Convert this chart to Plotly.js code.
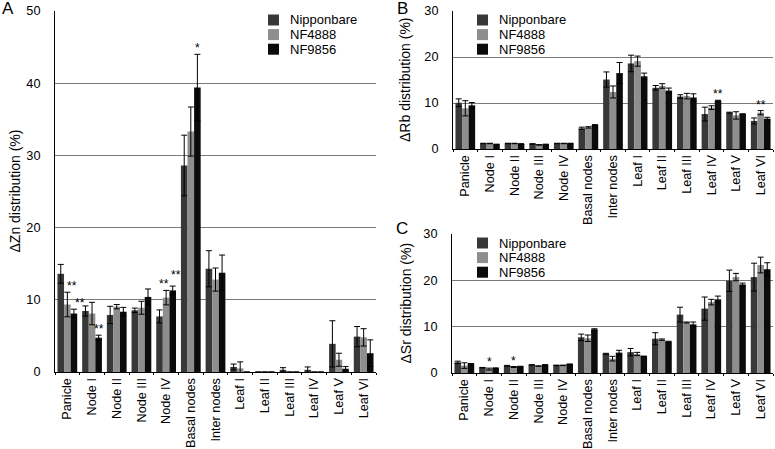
<!DOCTYPE html>
<html><head><meta charset="utf-8">
<script src="https://cdn.plot.ly/plotly-3.0.1.min.js"></script>
<style>html,body{margin:0;padding:0;background:#fff}#chart{width:775px;height:449px}</style>
</head><body><div id="chart"></div>
<script>
// ---------- data ----------
const categories = ['Panicle','Node I','Node II','Node III','Node IV','Basal nodes','Inter nodes','Leaf I','Leaf II','Leaf III','Leaf IV','Leaf V','Leaf VI'];
const seriesNames = ['Nipponbare','NF4888','NF9856'];

// Panel A: ΔZn
const znNip      = [13.6, 8.45, 7.9, 8.55, 7.7, 28.6, 14.3, 0.7, 0, 0.3, 0.3, 3.9, 4.9];
const znNipErr   = [1.3, 0.7, 1.2, 0.3, 0.9, 4.2, 2.5, 0.4, 0, 0.3, 0.4, 3.2, 1.4];
const zn4888     = [9.35, 8.1, 9.05, 8.9, 10.3, 33.3, 12.8, 0.5, 0, 0, 0, 1.7, 4.8];
const zn4888Err  = [1.7, 1.55, 0.3, 0.9, 1.0, 3.4, 1.6, 0.9, 0, 0, 0, 0.9, 1.2];
const zn9856     = [8.1, 4.75, 8.35, 10.4, 11.3, 39.4, 13.75, 0, 0, 0, 0, 0.45, 2.6];
const zn9856Err  = [0.6, 0.35, 0.6, 1.1, 0.6, 4.6, 2.45, 0, 0, 0, 0, 0.3, 1.85];

// Panel B: ΔRb
const rbNip      = [10.05, 1.2, 1.2, 1.1, 1.2, 4.5, 15.1, 18.6, 13.3, 11.4, 7.6, 7.9, 6.1];
const rbNipErr   = [0.85, 0.05, 0.05, 0.05, 0.05, 0.25, 1.65, 1.8, 0.5, 0.4, 1.5, 0.1, 0.65];
const rb4888     = [8.85, 1.2, 1.2, 0.9, 1.2, 4.7, 12.4, 19.1, 13.7, 11.5, 9.0, 7.3, 7.9];
const rb4888Err  = [1.65, 0.05, 0.05, 0.05, 0.05, 0.15, 1.3, 1.1, 0.5, 0.6, 0.4, 0.8, 0.45];
const rb9856     = [9.5, 1.0, 1.1, 1.0, 1.2, 5.2, 16.5, 15.8, 12.7, 11.2, 10.5, 7.6, 6.6];
const rb9856Err  = [0.6, 0.05, 0.05, 0.05, 0.05, 0.1, 2.3, 0.7, 0.55, 0.8, 0.1, 0.05, 0.3];

// Panel C: ΔSr
const srNip      = [2.3, 1.15, 1.55, 1.75, 1.65, 7.7, 4.15, 4.5, 7.4, 12.6, 13.9, 19.9, 20.7];
const srNipErr   = [0.25, 0.05, 0.1, 0.05, 0.05, 0.7, 0.1, 0.8, 1.3, 1.6, 2.5, 2.3, 3.0];
const sr4888     = [1.6, 0.85, 1.3, 1.5, 1.65, 7.5, 3.1, 4.1, 7.2, 10.9, 15.3, 20.7, 23.3];
const sr4888Err  = [0.6, 0.2, 0.1, 0.05, 0.05, 0.7, 0.5, 0.35, 0.15, 0.1, 0.6, 0.8, 1.7];
const sr9856     = [2.0, 1.05, 1.4, 1.75, 1.9, 9.4, 4.4, 3.6, 6.75, 10.5, 15.9, 19.1, 22.4];
const sr9856Err  = [0.05, 0.05, 0.05, 0.05, 0.05, 0.15, 0.5, 0.05, 0.1, 0.5, 0.7, 0.3, 1.4];

// significance marks: [category, series index, label]
const znStars = [['Panicle',1,'**'],['Panicle',2,'**'],['Node I',2,'**'],['Node IV',1,'**'],['Node IV',2,'**'],['Basal nodes',2,'*']];
const rbStars = [['Leaf IV',2,'**'],['Leaf VI',1,'**']];
const srStars = [['Node I',1,'*'],['Node II',1,'*']];

// ---------- styling ----------
const colors = ['#383838','#8e8e8e','#0b0b0b'];
const FONT = 'Liberation Sans, Arial, Helvetica, sans-serif';
const W = 775, H = 449;
const fx = p => p / W, fy = p => 1 - p / H;
// extra pixel shifts for some marks (style only)
const starShift = {'A|Panicle|1':[5,0],'A|Panicle|2':[6,0],'A|Node IV|1':[-2,0],'A|Node IV|2':[3,5]};

const panels = [
  {id:'A', sfx:'',  x0:55,  x1:376, y0:11,  y1:372, max:50, title:'ΔZn distribution (%)', tx:14,  letter:[8,9],
   vals:[znNip,zn4888,zn9856], errs:[znNipErr,zn4888Err,zn9856Err], stars:znStars, leg:[268,20]},
  {id:'B', sfx:'2', x0:453, x1:773, y0:11,  y1:149, max:30, title:'ΔRb distribution (%)', tx:405, letter:[402,8],
   vals:[rbNip,rb4888,rb9856], errs:[rbNipErr,rb4888Err,rb9856Err], stars:rbStars, leg:[477,20]},
  {id:'C', sfx:'3', x0:452, x1:773, y0:234, y1:373, max:30, title:'ΔSr distribution (%)', tx:405, letter:[402,228],
   vals:[srNip,sr4888,sr9856], errs:[srNipErr,sr4888Err,sr9856Err], stars:srStars, leg:[477,243]}
];

const traces = [];
const layout = {
  width: W, height: H, margin:{l:0,r:0,t:0,b:0},
  paper_bgcolor:'#fff', plot_bgcolor:'#fff',
  barmode:'group', bargap:0.2, bargroupgap:0,
  showlegend:false, font:{family:FONT, color:'#000'},
  annotations:[], shapes:[]
};

panels.forEach(p => {
  const xa = 'x' + p.sfx, ya = 'y' + p.sfx;
  p.vals.forEach((v, s) => {
    traces.push({
      type:'bar', x:categories, y:v, name:seriesNames[s], xaxis:xa, yaxis:ya,
      marker:{color:colors[s], line:{width:0}},
      error_y:{type:'data', array:p.errs[s], visible:true, color:'#000', thickness:1, width:3},
      showlegend:false, hoverinfo:'x+y+name'
    });
  });
  layout['xaxis' + p.sfx] = {
    domain:[fx(p.x0), fx(p.x1)], anchor:ya, type:'category',
    showline:true, linecolor:'#000', linewidth:1, mirror:false,
    ticks:'outside', ticklen:2, tickcolor:'#000', tickson:'boundaries',
    tickangle:-90, tickfont:{size:12.7, family:FONT, color:'#000'},
    showgrid:false, zeroline:false, fixedrange:true
  };
  layout['yaxis' + p.sfx] = {
    domain:[fy(p.y1), fy(p.y0)], anchor:xa, range:[0, p.max], dtick:10, tick0:0,
    showline:true, linecolor:'#000', linewidth:1,
    showgrid:true, gridcolor:'#7a7a7a', gridwidth:1, zeroline:false,
    ticks:'', ticklabelstandoff:11, tickfont:{size:12.7, family:FONT, color:'#000'},
    fixedrange:true
  };
  // axis title
  layout.annotations.push({
    text:p.title, xref:'paper', yref:'paper', x:fx(p.tx), y:fy((p.y0+p.y1)/2),
    xanchor:'center', yanchor:'middle', textangle:-90, showarrow:false,
    font:{size:14, family:FONT, color:'#000'}
  });
  // panel letter
  layout.annotations.push({
    text:p.id, xref:'paper', yref:'paper', x:fx(p.letter[0]), y:fy(p.letter[1]),
    xanchor:'center', yanchor:'middle', showarrow:false,
    font:{size:17, family:FONT, color:'#000'}
  });
  // legend (manual, compact spacing)
  seriesNames.forEach((n, s) => {
    const cy = p.leg[1] + s * 14.6;
    layout.shapes.push({
      type:'rect', xref:'paper', yref:'paper',
      x0:fx(p.leg[0]), x1:fx(p.leg[0] + 11), y0:fy(cy + 5.5), y1:fy(cy - 5.5),
      fillcolor:colors[s], line:{width:0}
    });
    layout.annotations.push({
      text:n, xref:'paper', yref:'paper', x:fx(p.leg[0] + 20), y:fy(cy),
      xanchor:'left', yanchor:'middle', showarrow:false,
      font:{size:13, family:FONT, color:'#000'}
    });
  });
  // significance marks
  const bw = (1 - 0.2) / 3;
  p.stars.forEach(st => {
    const ci = categories.indexOf(st[0]), s = st[1];
    const top = p.vals[s][ci] + p.errs[s][ci];
    const sh = starShift[p.id + '|' + st[0] + '|' + s] || [0,0];
    layout.annotations.push({
      text:st[2], xref:xa, yref:ya, x:ci + (s - 1) * bw, y:top,
      xanchor:'center', yanchor:'middle', showarrow:false, xshift:sh[0], yshift:6 + sh[1],
      borderpad:0, font:{size:12, family:FONT, color:'#000'}
    });
  });
});

Plotly.newPlot('chart', traces, layout, {displayModeBar:false, staticPlot:true});
</script>
</body></html>
